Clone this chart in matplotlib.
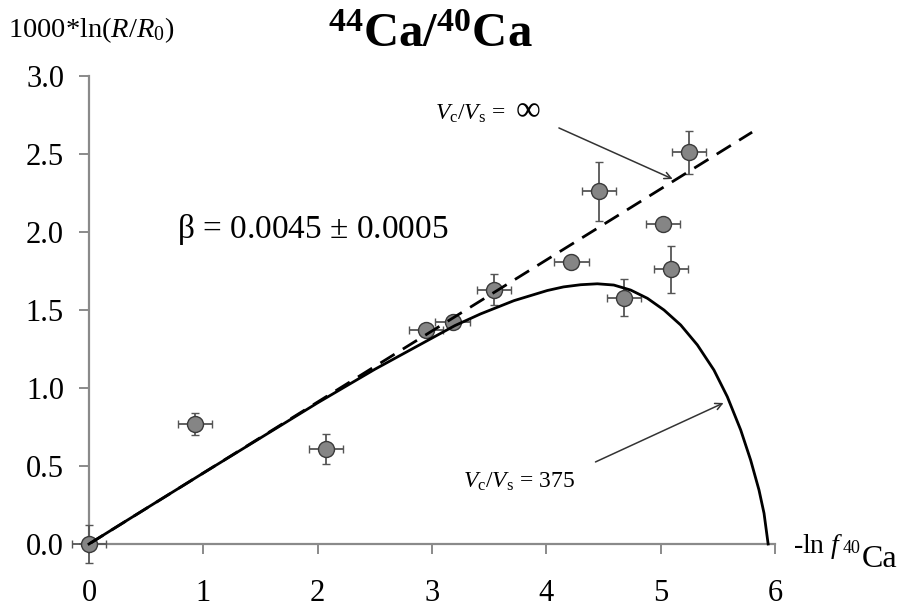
import matplotlib
matplotlib.use("Agg")
import matplotlib.pyplot as plt

plt.rcParams['font.family'] = ['Liberation Serif', 'DejaVu Serif']
plt.rcParams['mathtext.fontset'] = 'custom'
plt.rcParams['mathtext.rm'] = 'Liberation Serif'
plt.rcParams['mathtext.it'] = 'Liberation Serif:italic'
plt.rcParams['mathtext.bf'] = 'Liberation Serif:bold'

# measured data points: -ln f(40Ca), 1000*ln(R/R0)
pts_x = [0.0, 0.93, 2.07, 2.95, 3.18, 3.54, 4.22, 4.46, 4.68, 5.02, 5.09, 5.25]
pts_y = [0.0, 0.77, 0.61, 1.37, 1.42, 1.63, 1.81, 2.26, 1.58, 2.05, 1.76, 2.51]
pts_xerr = [0.15, 0.15, 0.15, 0.15, 0.15, 0.15, 0.15, 0.15, 0.15, 0.15, 0.15, 0.15]
pts_yerr = [0.12, 0.07, 0.095, 0.03, 0.03, 0.10, 0.04, 0.19, 0.12, 0.03, 0.15, 0.14]

# Vc/Vs = infinity line (read endpoints)
inf_x = [0.0, 5.80]
inf_y = [0.0, 2.64]

# Vc/Vs = 375 curve
c375_x = [0.0, 0.5, 1.0, 1.5, 2.0, 2.5, 2.75, 3.0, 3.2, 3.425, 3.717, 4.009, 4.15,
          4.30, 4.446, 4.59, 4.737, 4.884, 5.029, 5.175, 5.321, 5.466, 5.583, 5.70,
          5.787, 5.86, 5.904, 5.94]
c375_y = [0.0, 0.228, 0.455, 0.68, 0.905, 1.12, 1.22, 1.32, 1.40, 1.475, 1.56, 1.625, 1.648,
          1.662, 1.668, 1.66, 1.628, 1.575, 1.50, 1.404, 1.276, 1.115, 0.944, 0.731,
          0.538, 0.346, 0.197, 0.0]

xticks = [0, 1, 2, 3, 4, 5, 6]
yticks = [0.0, 0.5, 1.0, 1.5, 2.0, 2.5, 3.0]

fig = plt.figure(figsize=(9.07, 6.14), dpi=100)
ax = fig.add_axes([89/907, 1-544/614, (775-89)/907, (544-76)/614])
ax.set_xlim(0, 6)
ax.set_ylim(0, 3)

ax.errorbar(pts_x, pts_y, xerr=pts_xerr, yerr=pts_yerr, fmt='o',
            ms=11.5, mfc='#858585', mec='#3a3a3a', mew=1.0,
            ecolor='#555555', elinewidth=1.3, capsize=2.8, capthick=1.3,
            zorder=3, clip_on=False)
ax.plot(inf_x, inf_y, color='black', lw=2.0, ls=(0, (6, 3.5)), zorder=4)
ax.plot(c375_x, c375_y, color='black', lw=2.0, zorder=4, clip_on=False)

for s in ['top', 'right']:
    ax.spines[s].set_visible(False)
for s in ['left', 'bottom']:
    ax.spines[s].set_color('#8a8a8a')
    ax.spines[s].set_linewidth(1.6)

ax.set_xticks(xticks)
ax.set_xticklabels([str(t) for t in xticks])
ax.set_yticks(yticks)
ax.set_yticklabels(['%.1f' % t for t in yticks])
ax.tick_params(axis='x', direction='out', length=7, width=1.4, color='#8a8a8a',
               labelsize=22, pad=18)
ax.tick_params(axis='y', direction='out', length=7, width=1.4, color='#8a8a8a',
               labelsize=22, pad=11)

# title
fig.text(430/907, 1-47/614, r'$\mathbf{^{44}Ca/^{40}Ca}$', fontsize=35,
         ha='center', va='baseline')
# y label
fig.text(8/907, 1-37/614, r'1000*ln($R$/$R_0$)', fontsize=20.5, ha='left', va='baseline')

# x label pieces
fig.text(793/907, 1-553/614, r'-ln $f$', fontsize=20, ha='left', va='baseline')
fig.text(843/907, 1-553/614, '40', fontsize=13, ha='left', va='baseline')
fig.text(862/907, 1-567/614, 'Ca', fontsize=23, ha='left', va='baseline')

ax.text(0.774, 1.96, r'$\mathrm{\beta}$ = 0.0045 ± 0.0005', fontsize=24,
        ha='left', va='baseline')

ax.text(3.03, 2.72, r'$V_\mathrm{c}/V_\mathrm{s}$ = ', fontsize=17,
        ha='left', va='baseline')
ax.text(3.73, 2.72, '∞', fontsize=25, ha='left', va='baseline')
ax.annotate('', xy=(5.105, 2.34), xytext=(4.11, 2.667),
            arrowprops=dict(arrowstyle='->', color='#333333', lw=1.1,
                            shrinkA=0, shrinkB=0, mutation_scale=12))
ax.text(3.27, 0.36, r'$V_\mathrm{c}/V_\mathrm{s}$ = 375', fontsize=17,
        ha='left', va='baseline')
ax.annotate('', xy=(5.55, 0.904), xytext=(4.43, 0.526),
            arrowprops=dict(arrowstyle='->', color='#333333', lw=1.1,
                            shrinkA=0, shrinkB=0, mutation_scale=12))

fig.savefig('out.png', dpi=100)
